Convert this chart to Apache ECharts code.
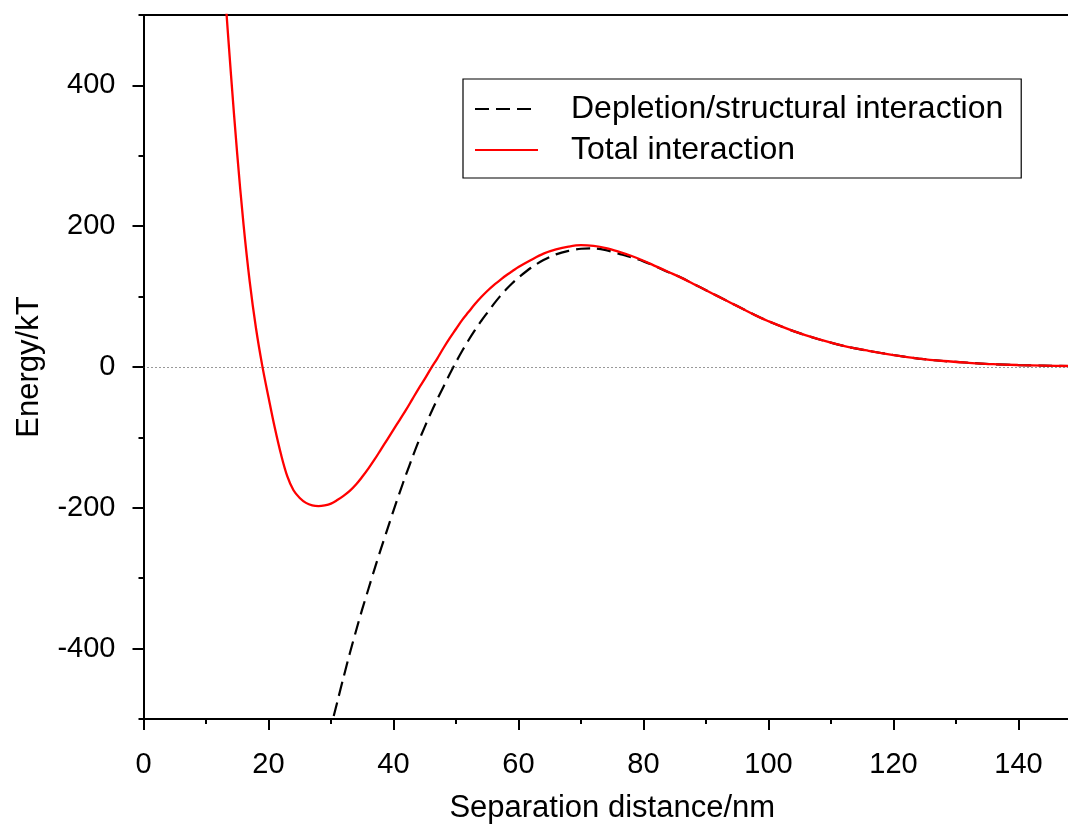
<!DOCTYPE html>
<html>
<head>
<meta charset="utf-8">
<script src="https://cdn.jsdelivr.net/npm/echarts@6/dist/echarts.min.js"></script>
<style>
  html, body { margin: 0; padding: 0; background: #fff; }
  #chart { width: 1068px; height: 829px; }
</style>
</head>
<body>
<div id="chart"></div>
<script>
// ---- Data ----
const seriesNames = ['Depletion/structural interaction', 'Total interaction'];

const depletionDistance = [29.8, 30, 31, 32, 33, 34, 35, 36, 37, 38, 39, 40, 41, 42, 43, 44, 45, 46, 47, 48, 49, 50,
  51, 52, 53, 54, 55, 56, 57, 58, 59, 60, 62, 64, 66, 68, 70, 72, 74, 76, 78, 80, 82, 84,
  86, 88, 90, 92, 94, 96, 98, 100, 104, 108, 112, 116, 120, 124, 128, 132, 136, 140, 144, 148, 150];
const depletionEnergy = [-525, -512, -476, -441, -407, -375, -344, -315, -286, -258, -231, -204, -178, -153, -129, -106, -85, -65, -46, -28, -10, 7,
  23, 38, 52, 65, 77, 89, 100, 110, 119, 127, 141, 152, 160, 165, 168, 168.5, 166, 161, 156, 150, 142.5, 134.5,
  127, 118, 109, 100, 91, 82, 73, 65, 51, 39.5, 30, 23, 17, 12, 8.5, 6, 4, 2.8, 2, 1.4, 1.2];

const totalDistance = [12, 13, 14, 15, 16, 17, 18, 19, 20,
  21, 22, 23, 24, 25, 26, 27, 28, 29, 30, 31, 32, 33, 34, 35, 36, 37, 38, 39, 40,
  41, 42, 43, 44, 45, 46, 47, 48, 49, 50, 51, 52, 53, 54, 55, 56, 57, 58, 59, 60,
  62, 64, 66, 68, 70, 72, 74, 76, 78, 80, 82, 84, 86, 88, 90, 92, 94, 96, 98, 100,
  104, 108, 112, 116, 120, 124, 128, 132, 136, 140, 144, 148, 150];
const totalEnergy = [665, 537, 415, 302, 203, 121, 55, 2, -43,
  -86, -124, -155, -175, -186, -193, -196.5, -197.5, -196.5, -194, -189, -183, -176, -167, -156, -144, -131, -117, -103, -89,
  -75, -61, -46, -31, -17, -2, 12, 27, 41, 54, 67, 78, 89, 99, 108, 116, 123, 130, 136, 142,
  152, 161, 167, 171, 173, 172, 169, 164, 158, 151, 143, 135, 127, 118, 109, 100, 91, 82, 73, 65,
  51, 39.5, 30, 23, 17, 12, 8.5, 6, 4, 2.8, 2, 1.4, 1.2];

const xMin = 0, xMax = 150, xMajor = 20, xMinor = 10, xLastLabel = 140;
const yMin = -500, yMax = 500, yMajorMin = -400, yMajorMax = 400, yMajor = 200, yMinor = 100;
const xTitle = 'Separation distance/nm';
const yTitle = 'Energy/kT';

// ---- Chart ----
const FONT = '"Liberation Sans", Arial, Helvetica, sans-serif';
const pairs = (xs, ys) => xs.map((x, i) => [x, ys[i]]);

const chart = echarts.init(document.getElementById('chart'), null, { renderer: 'canvas' });

const gridLeft = 143.5, gridWidth = 937.5, gridTop = 15, gridBottom = 110;
const plotH = 829 - gridTop - gridBottom;
const unitH = plotH / (yMax - yMin);

const lineStyleAxis = { color: '#000', width: 2 };
const tickStyle = { color: '#000', width: 2 };

chart.setOption({
  animation: false,
  backgroundColor: '#fff',
  textStyle: { fontFamily: FONT, color: '#000' },
  grid: [
    { left: gridLeft, width: gridWidth, top: gridTop, bottom: gridBottom,
      outerBoundsMode: 'none', containLabel: false },
    { left: gridLeft, width: gridWidth,
      top: gridTop + (yMax - yMajorMax) * unitH,
      bottom: gridBottom + (yMajorMin - yMin) * unitH,
      outerBoundsMode: 'none', containLabel: false }
  ],
  legend: {
    orient: 'vertical',
    left: 463, top: 79,
    padding: [14, 18, 12, 11],
    itemGap: 9,
    itemWidth: 63, itemHeight: 14,
    borderColor: '#000', borderWidth: 1.2,
    backgroundColor: '#fff',
    itemStyle: { opacity: 0 },
    data: seriesNames,
    textStyle: { fontFamily: FONT, fontSize: 32, color: '#000', padding: [0, 0, 0, 28] }
  },
  xAxis: [
    { // minor ticks + axis line
      gridIndex: 0, type: 'value', position: 'bottom', min: xMin, max: xMax, interval: xMinor,
      axisLine: { show: true, onZero: false, lineStyle: lineStyleAxis },
      axisTick: { show: true, inside: false, length: 5, lineStyle: tickStyle },
      axisLabel: { show: false }, splitLine: { show: false },
      name: xTitle, nameLocation: 'middle', nameGap: 74,
      nameTextStyle: { fontFamily: FONT, fontSize: 31, color: '#000' }
    },
    { // major ticks + labels
      gridIndex: 0, type: 'value', position: 'bottom', min: xMin, max: xMax, interval: xMajor,
      axisLine: { show: false, onZero: false },
      axisTick: { show: true, inside: false, length: 11, lineStyle: tickStyle },
      axisLabel: { show: true, margin: 31, fontFamily: FONT, fontSize: 29, color: '#000',
        formatter: v => (v % xMajor === 0 && v <= xLastLabel) ? String(v) : '' },
      splitLine: { show: false }
    },
    { // top frame line
      gridIndex: 0, type: 'value', position: 'top', min: xMin, max: xMax,
      axisLine: { show: true, onZero: false, lineStyle: lineStyleAxis },
      axisTick: { show: false }, axisLabel: { show: false }, splitLine: { show: false }
    },
    { gridIndex: 1, type: 'value', min: xMin, max: xMax, show: false,
      axisLine: { onZero: false } }
  ],
  yAxis: [
    { // minor ticks + axis line
      gridIndex: 0, type: 'value', position: 'left', min: yMin, max: yMax, interval: yMinor,
      axisLine: { show: true, onZero: false, lineStyle: lineStyleAxis },
      axisTick: { show: true, inside: false, length: 5, lineStyle: tickStyle },
      axisLabel: { show: false }, splitLine: { show: false },
      name: yTitle, nameLocation: 'middle', nameGap: 99, nameRotate: 90,
      nameTextStyle: { fontFamily: FONT, fontSize: 31, color: '#000' }
    },
    { // major ticks + labels
      gridIndex: 1, type: 'value', position: 'left', min: yMajorMin, max: yMajorMax, interval: yMajor,
      axisLine: { show: false, onZero: false },
      axisTick: { show: true, inside: false, length: 11, lineStyle: tickStyle },
      axisLabel: { show: true, margin: 28, fontFamily: FONT, fontSize: 29, color: '#000',
        padding: [4, 0, 0, 0] },
      splitLine: { show: false }
    }
  ],
  series: [
    {
      name: seriesNames[0], type: 'line', xAxisIndex: 0, yAxisIndex: 0,
      data: pairs(depletionDistance, depletionEnergy),
      symbol: 'none', showSymbol: false, smooth: 0.3, clip: true,
      lineStyle: { color: '#000', width: 2.2, type: [14, 7] },
      itemStyle: { color: '#000' },
      markLine: {
        silent: true, symbol: ['none', 'none'], label: { show: false },
        lineStyle: { color: '#333', width: 1, type: [1, 3] },
        data: [{ yAxis: 0 }]
      },
      z: 2
    },
    {
      name: seriesNames[1], type: 'line', xAxisIndex: 0, yAxisIndex: 0,
      data: pairs(totalDistance, totalEnergy),
      symbol: 'none', showSymbol: false, smooth: 0.35, clip: true,
      lineStyle: { color: '#ff0000', width: 2.3 },
      itemStyle: { color: '#ff0000' },
      z: 3
    }
  ]
});
</script>
</body>
</html>
